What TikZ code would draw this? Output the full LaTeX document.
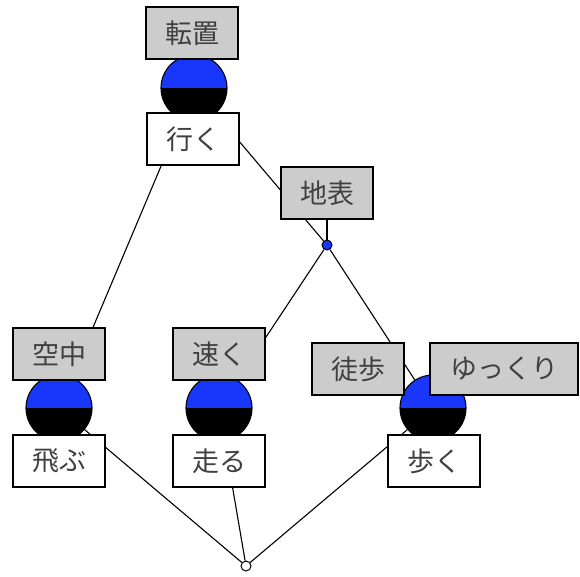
\documentclass[tikz,border=0pt]{standalone}
\usepackage{fontspec}
\setmainfont{Noto Sans CJK JP}
\definecolor{cblue}{RGB}{25,55,250}
\definecolor{lblgray}{RGB}{204,204,204}
\begin{document}
\begin{tikzpicture}[x=1pt,y=-1pt,
 lbl/.style={draw=black, line width=1.3pt, fill=lblgray, minimum width=92pt, minimum height=52pt, inner sep=2pt, font=\fontsize{27}{30}\selectfont, text=black!75},
 obj/.style={lbl, fill=white},
 edge/.style={line width=1.1pt},
 concept/.style={circle, draw, line width=1.1pt, minimum size=66pt, inner sep=0pt,
   path picture={\fill[cblue] (path picture bounding box.west) rectangle (path picture bounding box.north east);
                 \fill[black] (path picture bounding box.west) rectangle (path picture bounding box.south east);}},
 pt/.style={circle, draw, line width=1pt, minimum size=10pt, inner sep=0pt}
]
\useasboundingbox (0,0) rectangle (580,576);
% concepts
\node[concept] (c1) at (194,88) {};
\node[pt, fill=cblue] (c2) at (327,245) {};
\node[concept] (c3) at (59,408) {};
\node[concept] (c4) at (219,408) {};
\node[concept] (c5) at (433,408) {};
\node[pt, fill=white] (c6) at (246,566) {};
% edges
\draw[edge] (c1) -- (c2);
\draw[edge] (c1) -- (c3);
\draw[edge] (c2) -- (c4);
\draw[edge] (c2) -- (c5);
\draw[edge] (c3) -- (c6);
\draw[edge] (c4) -- (c6);
\draw[edge] (c5) -- (c6);
% labels
\node[lbl] (a1) at (192,33) {転置};
\node[obj] (o1) at (193,139) {行く};
\node[lbl] (a2) at (327,193) {地表};
\draw[edge] (c2) -- (a2);
\node[lbl] (a3) at (59,354) {空中};
\node[obj] (o3) at (59,461) {飛ぶ};
\node[lbl] (a4) at (219,354) {速く};
\node[obj] (o4) at (219,461) {走る};
\node[lbl] (a5) at (358,369) {徒歩};
\node[lbl, minimum width=148pt] (a6) at (504,369) {ゆっくり};
\node[obj] (o5) at (434,461) {歩く};
\end{tikzpicture}
\end{document}
